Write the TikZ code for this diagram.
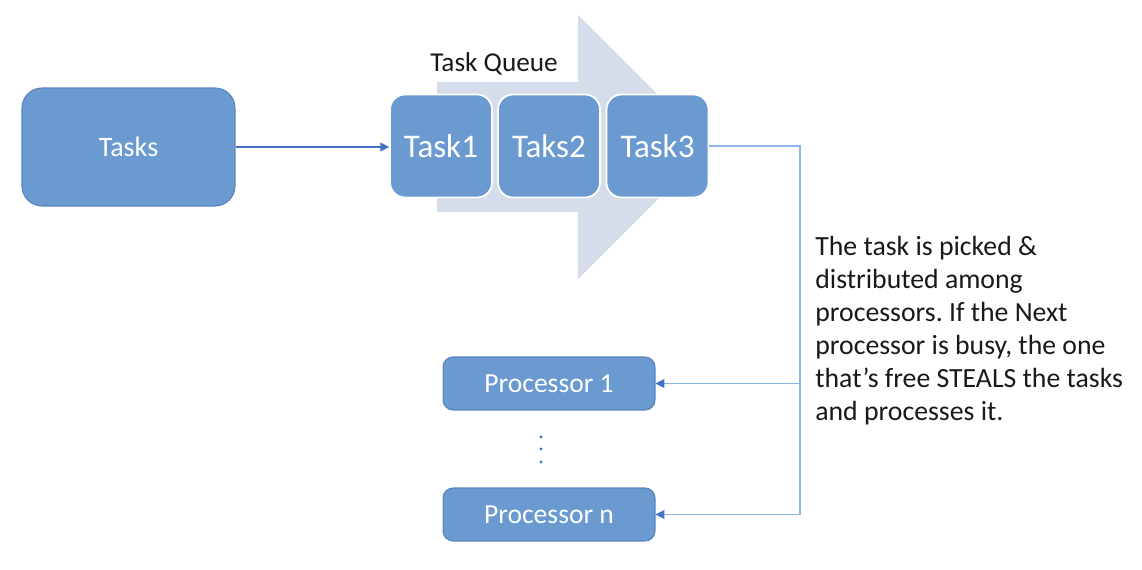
\documentclass[tikz,border=0pt]{standalone}
\usepackage{fontspec}
\setmainfont{Carlito}
\usetikzlibrary{arrows.meta, positioning}
\definecolor{boxblue}{HTML}{6A9AD0}
\definecolor{boxedge}{HTML}{5682BD}
\definecolor{queuegray}{HTML}{D5DDEA}
\definecolor{linkblue}{HTML}{8DB4E2}
\definecolor{tipblue}{HTML}{4472C4}
\tikzset{
  taskbox/.style={draw=boxedge, fill=boxblue, text=white, line width=0.6pt},
  queuebox/.style={taskbox, draw=white, line width=1pt, minimum width=2.04cm, minimum height=2.06cm,
    rounded corners=0.3cm, font=\fontsize{18.8}{22}\selectfont},
  procbox/.style={taskbox, minimum width=4.24cm, minimum height=1.06cm, rounded corners=0.2cm,
    font=\fontsize{15.7}{18}\selectfont},
  link/.style={linkblue, line width=0.6pt},
  tip/.style={-{Triangle[length=5pt,width=5pt,color=tipblue]}},
}
\frenchspacing
\begin{document}
\begin{tikzpicture}[x=0.02cm,y=-0.02cm]
            \useasboundingbox (0,0) rectangle (1142,570);
            % queue arrow in the back
            \fill[queuegray] (437,82) -- (578,82) -- (578,15) -- (710,147)
                -- (578,279) -- (578,212) -- (437,212) -- cycle;
            \node[taskbox, minimum width=4.26cm, minimum height=2.36cm, rounded corners=0.4cm,
                font=\fontsize{16}{19}\selectfont] (tasks) at (128.5,147) {Tasks};
            \node[anchor=base west, inner sep=0pt, font=\fontsize{15.5}{18}\selectfont, text=black!90] (qlabel) at (430,72) {Task Queue};
            \node[queuebox] (t1) at (441,146) {Task1};
            \node[queuebox] (t2) at (549,146) {Taks2};
            \node[queuebox] (t3) at (657.5,146) {Task3};
            \node[procbox] (p1) at (549,383.5) {Processor 1};
            \node[procbox] (pn) at (549,514.5) {Processor n};
            \foreach \y in {437,449,462}
                \fill[tipblue] (541,\y) circle (1.7);
            \coordinate (turn) at (800,0);
            \draw[tipblue, line width=0.6pt, tip] (tasks.east) -- (tasks.east -| t1.west);
            \draw[link] (t3.east) -- (t3.east -| turn) -- (turn |- pn.east);
            \draw[link, tip] (turn |- p1.east) -- (p1.east);
            \draw[link, tip] (turn |- pn.east) -- (pn.east);
            % \draw (t2) -- (p1);
            \node[anchor=north west, align=left, inner sep=0pt, text=black!90,
                font=\fontsize{15.8}{18.8}\selectfont] (note) at (815,236)
                {The task is picked \&\\ distributed among\\ processors. If the Next\\
                 processor is busy, the one\\ that’s free STEALS the tasks\\ and processes it.};
        \end{tikzpicture}
\end{document}
